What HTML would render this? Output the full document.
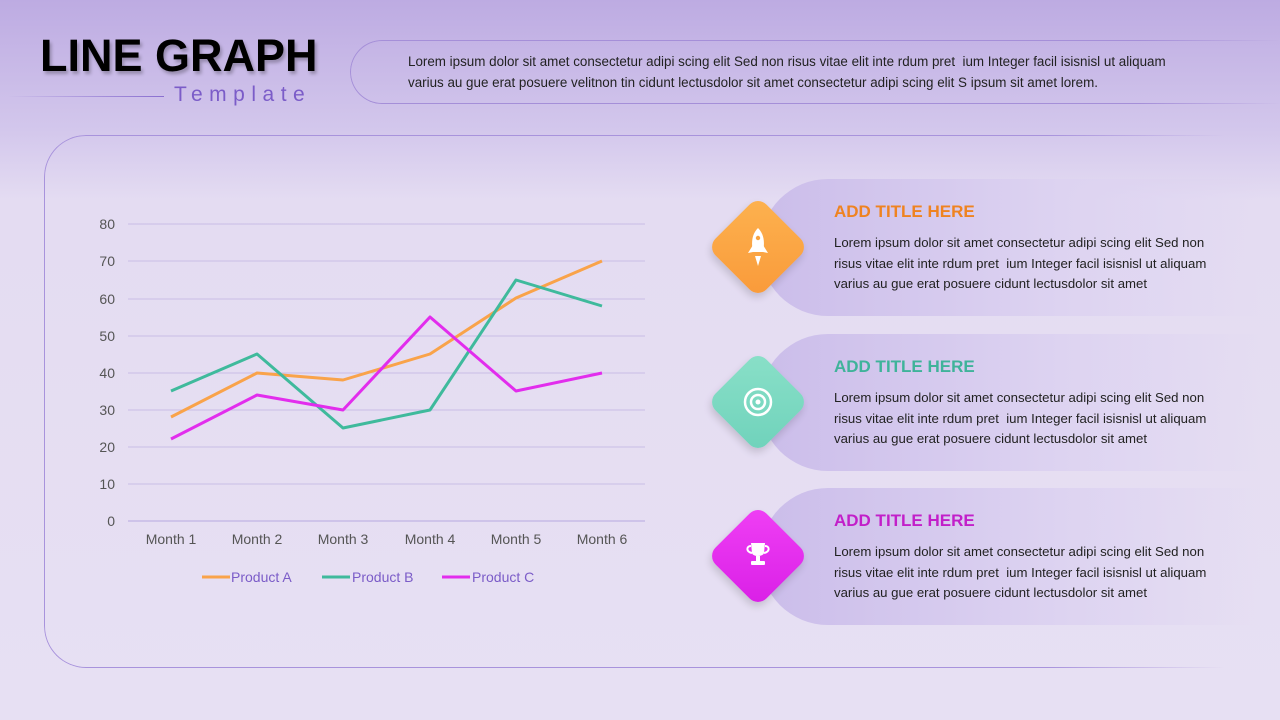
<!DOCTYPE html>
<html><head><meta charset="utf-8"><style>
*{margin:0;padding:0;box-sizing:border-box}
body{width:1280px;height:720px;overflow:hidden;position:relative;font-family:"Liberation Sans",sans-serif;background:linear-gradient(180deg,#bdabe2 0px,#d3c7ec 130px,#e4dcf2 200px,#e7e0f3 720px)}
.title{position:absolute;left:40px;top:30px;font-size:45px;font-weight:bold;color:#000;letter-spacing:0px;text-shadow:2px 3px 3px rgba(0,0,0,.25)}
.tline{position:absolute;left:8px;top:96px;width:156px;height:1px;background:linear-gradient(90deg,rgba(130,100,200,0),#8a6fd0)}
.tmpl{position:absolute;left:174px;top:83px;font-size:21px;color:#7b5cc8;letter-spacing:6.5px}
.pill{position:absolute;left:350px;top:40px;width:930px;height:64px;border:1px solid #a58fd8;border-right:none;border-radius:32px 0 0 32px;-webkit-mask:linear-gradient(90deg,#000 85%,transparent)}
.ptext{position:absolute;left:408px;top:51px;font-size:13.4px;line-height:21px;color:#222;white-space:nowrap}
.card{position:absolute;left:44px;top:135px;width:1180px;height:533px;border:1px solid #a893dc;border-right:none;border-radius:42px 0 0 42px;-webkit-mask:linear-gradient(90deg,#000 85%,transparent)}
.box{position:absolute;left:760px;width:500px;height:137px;border-radius:68px 0 0 68px;background:linear-gradient(90deg,#cbbdea,#ddd3f1 60%,rgba(230,224,243,0))}
.dia{position:absolute;left:722px;width:72px;height:72px;border-radius:12px;transform:rotate(45deg);box-shadow:2px 4px 8px rgba(0,0,0,.15)}
.h{position:absolute;left:834px;font-size:17px;font-weight:bold}
.p{position:absolute;left:834px;font-size:13.2px;line-height:20.5px;color:#222;white-space:nowrap}
</style></head><body>
<div class="title">LINE GRAPH</div>
<div class="tline"></div>
<div class="tmpl">Template</div>
<div class="pill"></div>
<div class="ptext">Lorem ipsum dolor sit amet consectetur adipi scing elit Sed non risus vitae elit inte rdum pret &nbsp;ium Integer facil isisnisl ut aliquam<br>varius au gue erat posuere velitnon tin cidunt lectusdolor sit amet consectetur adipi scing elit S ipsum sit amet lorem.</div>
<div class="card"></div>

<div class="box" style="top:179px"></div>
<div class="box" style="top:334px"></div>
<div class="box" style="top:488px"></div>
<div class="dia" style="top:211px;background:linear-gradient(135deg,#fdb24f,#f99a3a)"></div>
<div class="dia" style="top:366px;background:linear-gradient(135deg,#8ae0c8,#6fd2bb)"></div>
<div class="dia" style="top:520px;background:linear-gradient(135deg,#f040f5,#d91fe6)"></div>

<svg style="position:absolute;left:0;top:0" width="1280" height="720">
<g stroke="#c9bde6" stroke-width="1">
<line x1="128" x2="645" y1="224" y2="224"/><line x1="128" x2="645" y1="261" y2="261"/><line x1="128" x2="645" y1="299" y2="299"/><line x1="128" x2="645" y1="336" y2="336"/><line x1="128" x2="645" y1="373" y2="373"/><line x1="128" x2="645" y1="410" y2="410"/><line x1="128" x2="645" y1="447" y2="447"/><line x1="128" x2="645" y1="484" y2="484"/><line x1="128" x2="645" y1="521" y2="521" stroke="#b7a8e0"/>
</g>
<g font-family="Liberation Sans" font-size="14" fill="#555" text-anchor="end">
<text x="115" y="229">80</text><text x="115" y="266">70</text><text x="115" y="304">60</text><text x="115" y="341">50</text><text x="115" y="378">40</text><text x="115" y="415">30</text><text x="115" y="452">20</text><text x="115" y="489">10</text><text x="115" y="526">0</text>
</g>
<g font-family="Liberation Sans" font-size="14" fill="#555" text-anchor="middle">
<text x="171" y="544">Month 1</text><text x="257" y="544">Month 2</text><text x="343" y="544">Month 3</text><text x="430" y="544">Month 4</text><text x="516" y="544">Month 5</text><text x="602" y="544">Month 6</text>
</g>
<g fill="none" stroke-width="3" stroke-linejoin="round">
<polyline stroke="#f9a34a" points="171,417 257,373 343,380 430,354 516,298 602,261"/>
<polyline stroke="#3fba9c" points="171,391 257,354 343,428 430,410 516,280 602,306"/>
<polyline stroke="#e22ded" points="171,439 257,395 343,410 430,317 516,391 602,373"/>
</g>
<g stroke-width="3"><line x1="202" x2="230" y1="577" y2="577" stroke="#f9a34a"/><line x1="322" x2="350" y1="577" y2="577" stroke="#3fba9c"/><line x1="442" x2="470" y1="577" y2="577" stroke="#e22ded"/></g>
<g font-family="Liberation Sans" font-size="14" fill="#7b5cc8"><text x="231" y="582">Product A</text><text x="352" y="582">Product B</text><text x="472" y="582">Product C</text></g>
<g fill="#fff">
<path d="M758,228 C764,234 765,242 763,252 L753,252 C751,242 752,234 758,228Z"/>
<path d="M753,245 L748,253 L753,252Z"/><path d="M763,245 L768,253 L763,252Z"/>
<path d="M755,256 L761,256 L758,266Z"/>
</g>
<circle cx="758" cy="238" r="2.2" fill="#f9a340"/>
<g fill="none" stroke="#fff" stroke-width="2.5"><circle cx="758" cy="402" r="13"/><circle cx="758" cy="402" r="7"/></g>
<circle cx="758" cy="402" r="2.5" fill="#fff"/>
<g fill="#fff">
<path d="M751,543 L765,543 L764,553 C763,557 753,557 752,553Z"/>
<rect x="756" y="556" width="4" height="5"/><rect x="751" y="561" width="14" height="4" rx="1"/>
</g>
<g fill="none" stroke="#fff" stroke-width="2"><path d="M751,546 C746,546 746,552 752,553"/><path d="M765,546 C770,546 770,552 764,553"/></g>
</svg>

<div class="h" style="top:202px;color:#ef8320">ADD TITLE HERE</div>
<div class="p" style="top:233px">Lorem ipsum dolor sit amet consectetur adipi scing elit Sed non<br>risus vitae elit inte rdum pret &nbsp;ium Integer facil isisnisl ut aliquam<br>varius au gue erat posuere cidunt lectusdolor sit amet</div>
<div class="h" style="top:357px;color:#3fb39a">ADD TITLE HERE</div>
<div class="p" style="top:388px">Lorem ipsum dolor sit amet consectetur adipi scing elit Sed non<br>risus vitae elit inte rdum pret &nbsp;ium Integer facil isisnisl ut aliquam<br>varius au gue erat posuere cidunt lectusdolor sit amet</div>
<div class="h" style="top:511px;color:#c21fc9">ADD TITLE HERE</div>
<div class="p" style="top:542px">Lorem ipsum dolor sit amet consectetur adipi scing elit Sed non<br>risus vitae elit inte rdum pret &nbsp;ium Integer facil isisnisl ut aliquam<br>varius au gue erat posuere cidunt lectusdolor sit amet</div>
</body></html>
